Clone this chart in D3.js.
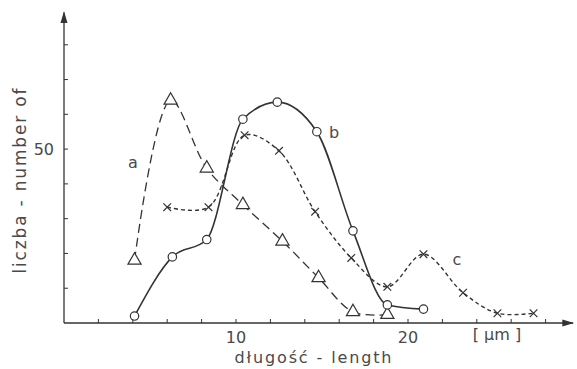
<!DOCTYPE html>
<html>
<head>
<meta charset="utf-8">
<script src="https://cdn.jsdelivr.net/npm/d3@7"></script>
<style>
  body { margin: 0; background: #fff; }
  svg { display: block; }
  text { font-family: "DejaVu Sans", sans-serif; fill: #4a4a4a; }
</style>
</head>
<body>
<svg id="chart"></svg>
<script>
// Chart size
const width = 577;
const height = 369;

// Data (length in µm, count)
const aLength = [4.1, 6.2, 8.3, 10.4, 12.7, 14.8, 16.8, 18.8];
const aCount  = [18, 64, 44.5, 34, 23.5, 13, 3.2, 2.4];

const bLength = [4.1, 6.3, 8.3, 10.4, 12.4, 14.7, 16.8, 18.8, 20.9];
const bCount  = [2, 19, 24, 58.6, 63.5, 55, 26.5, 5.2, 4];

const cLength = [6.0, 8.4, 10.5, 12.5, 14.6, 16.7, 18.8, 20.9, 23.2, 25.2, 27.3];
const cCount  = [33.3, 33.3, 54, 49.5, 32, 18.7, 10.4, 19.8, 8.7, 2.8, 2.8];

const xTicks = [2, 4, 6, 8, 10, 12, 14, 16, 18, 20, 22, 24, 26, 28];
const xTickLabels = [10, 20];
const yTicks = [10, 20, 30, 40, 50, 60, 70, 80];
const yTickLabels = [50];

const ink = "#333";

const svg = d3.select("#chart")
    .attr("width", width)
    .attr("height", height);

// Scales
const x = d3.scaleLinear().domain([0, 30]).range([64, 580]);
const y = d3.scaleLinear().domain([0, 90]).range([323, 10]);

// Arrow head
svg.append("defs").append("marker")
    .attr("id", "arrow")
    .attr("viewBox", "0 0 10 10")
    .attr("refX", 9).attr("refY", 5)
    .attr("markerWidth", 12).attr("markerHeight", 12)
    .attr("markerUnits", "userSpaceOnUse")
    .attr("orient", "auto")
    .append("path")
    .attr("d", "M0,2 L10,5 L0,8 Z")
    .attr("fill", ink);

// Axes lines
svg.append("line")
    .attr("x1", x(0)).attr("y1", y(0))
    .attr("x2", x(29.6)).attr("y2", y(0))
    .attr("stroke", ink).attr("stroke-width", 1.3)
    .attr("marker-end", "url(#arrow)");
svg.append("line")
    .attr("x1", x(0)).attr("y1", y(0))
    .attr("x2", x(0)).attr("y2", y(89.3))
    .attr("stroke", ink).attr("stroke-width", 1.3)
    .attr("marker-end", "url(#arrow)");

// Ticks
svg.selectAll(".xtick")
    .data(xTicks)
    .enter().append("line")
    .attr("x1", d => x(d)).attr("x2", d => x(d))
    .attr("y1", y(0)).attr("y2", y(0) - 4)
    .attr("stroke", ink).attr("stroke-width", 1);
svg.selectAll(".ytick")
    .data(yTicks)
    .enter().append("line")
    .attr("x1", x(0)).attr("x2", x(0) + 4)
    .attr("y1", d => y(d)).attr("y2", d => y(d))
    .attr("stroke", ink).attr("stroke-width", 1);

svg.selectAll(".xlab")
    .data(xTickLabels)
    .enter().append("text")
    .attr("x", d => x(d))
    .attr("y", 343)
    .attr("text-anchor", "middle")
    .attr("font-size", 16)
    .text(d => d);
svg.selectAll(".ylab")
    .data(yTickLabels)
    .enter().append("text")
    .attr("x", 54)
    .attr("y", d => y(d) + 6)
    .attr("text-anchor", "end")
    .attr("font-size", 16)
    .text(d => d);

// Axis titles
svg.append("text")
    .attr("transform", "translate(26,181) rotate(-90)")
    .attr("text-anchor", "middle")
    .attr("font-size", 17)
    .attr("textLength", 185)
    .attr("lengthAdjust", "spacing")
    .text("liczba - number of");
svg.append("text")
    .attr("x", 313).attr("y", 363)
    .attr("text-anchor", "middle")
    .attr("font-size", 16)
    .attr("textLength", 157)
    .attr("lengthAdjust", "spacing")
    .text("długość - length");
svg.append("text")
    .attr("x", 497).attr("y", 340)
    .attr("text-anchor", "middle")
    .attr("font-size", 16)
    .text("[ μm ]");

// Curves
const line = d3.line()
    .x(d => x(d[0]))
    .y(d => y(d[1]))
    .curve(d3.curveCatmullRom.alpha(0.5));

const aPts = d3.zip(aLength, aCount);
const bPts = d3.zip(bLength, bCount);
const cPts = d3.zip(cLength, cCount);

svg.append("path")
    .attr("d", line(aPts))
    .attr("fill", "none").attr("stroke", ink)
    .attr("stroke-width", 1.3).attr("stroke-dasharray", "9,5");
svg.append("path")
    .attr("d", line.curve(d3.curveMonotoneX)(bPts))
    .attr("fill", "none").attr("stroke", ink)
    .attr("stroke-width", 1.6);
svg.append("path")
    .attr("d", line.curve(d3.curveCatmullRom.alpha(0.5))(cPts))
    .attr("fill", "none").attr("stroke", ink)
    .attr("stroke-width", 1.4).attr("stroke-dasharray", "4,3");

// Markers
svg.selectAll(".tri")
    .data(aPts)
    .enter().append("path")
    .attr("d", d3.symbol().type(d3.symbolTriangle).size(75))
    .attr("transform", d => `translate(${x(d[0])},${y(d[1])})`)
    .attr("fill", "#fff").attr("stroke", ink).attr("stroke-width", 1.2);
svg.selectAll(".circ")
    .data(bPts)
    .enter().append("circle")
    .attr("cx", d => x(d[0])).attr("cy", d => y(d[1]))
    .attr("r", 4.2)
    .attr("fill", "#fff").attr("stroke", ink).attr("stroke-width", 1.2);
svg.selectAll(".cross")
    .data(cPts)
    .enter().append("path")
    .attr("d", d3.symbol().type(d3.symbolX).size(40))
    .attr("transform", d => `translate(${x(d[0])},${y(d[1])})`)
    .attr("fill", "none").attr("stroke", ink).attr("stroke-width", 1.2);

// Series labels
svg.append("text").attr("x", 133).attr("y", 168)
    .attr("text-anchor", "middle").attr("font-size", 16).text("a");
svg.append("text").attr("x", 334).attr("y", 138)
    .attr("text-anchor", "middle").attr("font-size", 16).text("b");
svg.append("text").attr("x", 457).attr("y", 265)
    .attr("text-anchor", "middle").attr("font-size", 16).text("c");
</script>
</body>
</html>
